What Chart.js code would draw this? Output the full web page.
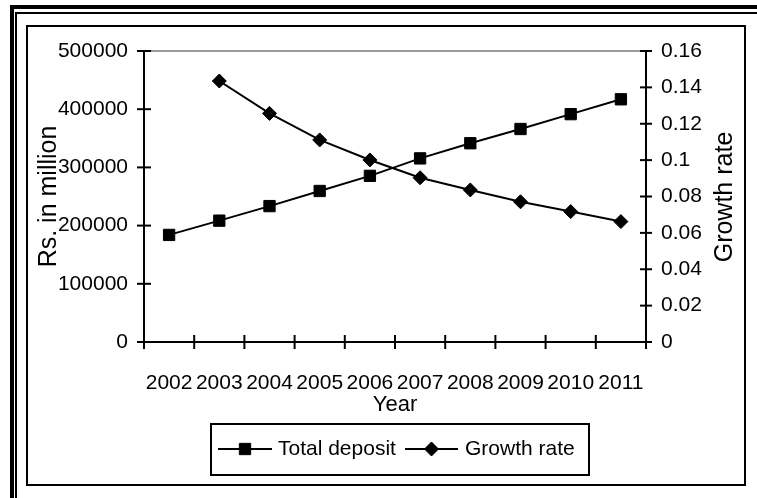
<!DOCTYPE html>
<html>
<head>
<meta charset="utf-8">
<title>Total deposit and growth rate</title>
<script src="https://cdn.jsdelivr.net/npm/chart.js@4.4.0/dist/chart.umd.min.js"></script>
<style>
    html, body {
        margin: 0;
        padding: 0;
        background: #fff;
    }
    canvas {
        display: block;
    }
</style>
</head>
<body>
<canvas id="deposits" width="757" height="498"></canvas>
<script>

const years = ["2002", "2003", "2004", "2005", "2006", "2007", "2008", "2009", "2010", "2011"];

// Rs. in million
const totalDeposit = [184000, 208500, 233500, 259500, 285500, 315500, 341500, 366000, 391500, 417000];

// no growth figure for the first year
const growthRate = [null, 0.1435, 0.1257, 0.1111, 0.1001, 0.0903, 0.0836, 0.0771, 0.0717, 0.0662];

const depositTicks = [0, 100000, 200000, 300000, 400000, 500000];
const rateTicks = [0, 0.02, 0.04, 0.06, 0.08, 0.1, 0.12, 0.14, 0.16];

const FONT = "\"Liberation Sans\", Arial, sans-serif";

Chart.defaults.font.family = FONT;
Chart.defaults.color = "#000";

function strokeLine(ctx, x1, y1, x2, y2) {
    ctx.beginPath();
    ctx.moveTo(x1, y1);
    ctx.lineTo(x2, y2);
    ctx.stroke();
}

// double rule round the sheet plus the thin chart border
const framePlugin = {
    id: "frame",

    beforeDraw(chart) {
        const ctx = chart.ctx;
        const w = chart.width;
        const h = chart.height;

        ctx.save();
        ctx.fillStyle = "#fff";
        ctx.fillRect(0, 0, w, h);

        ctx.fillStyle = "#000";
        ctx.fillRect(10, 5, w - 10, 4);
        ctx.fillRect(10, 5, 4, h - 5);
        ctx.fillRect(15, 12, w - 15, 2);
        ctx.fillRect(15, 12, 2, h - 12);

        ctx.strokeStyle = "#000";
        ctx.lineWidth = 2;
        ctx.strokeRect(27, 26, 718, 459);
        ctx.restore();
    }
};

// axis lines with tick marks that cross them, grey rule on top
const axesPlugin = {
    id: "axes",

    beforeDatasetsDraw(chart) {
        const ctx = chart.ctx;
        const a = chart.chartArea;
        const { x, y, y1 } = chart.scales;

        ctx.save();
        ctx.lineWidth = 2;

        ctx.strokeStyle = "#999";
        strokeLine(ctx, a.left, a.top, a.right, a.top);

        ctx.strokeStyle = "#000";
        strokeLine(ctx, a.left, a.top - 1, a.left, a.bottom + 1);
        strokeLine(ctx, a.right, a.top - 1, a.right, a.bottom + 1);
        strokeLine(ctx, a.left, a.bottom, a.right, a.bottom);

        y.ticks.forEach((t, i) => {
            const py = y.getPixelForTick(i);
            strokeLine(ctx, a.left - 7, py, a.left + 7, py);
        });

        y1.ticks.forEach((t, i) => {
            const py = y1.getPixelForTick(i);
            strokeLine(ctx, a.right - 6, py, a.right + 6, py);
        });

        // marks sit between the year categories
        for (let i = 0; i <= x.ticks.length; i++) {
            const px = x.getPixelForValue(i - 0.5);
            strokeLine(ctx, px, a.bottom - 7, px, a.bottom + 7);
        }

        ctx.restore();
    }
};

// right axis title reads upwards like the left one, and a boxed legend
const annotatePlugin = {
    id: "annotate",

    afterDraw(chart) {
        const ctx = chart.ctx;

        ctx.save();
        ctx.fillStyle = "#000";
        ctx.translate(725, 197);
        ctx.rotate(-Math.PI / 2);
        ctx.font = "25px " + FONT;
        ctx.textAlign = "center";
        ctx.textBaseline = "middle";
        ctx.fillText("Growth rate", 0, 0);
        ctx.restore();

        const box = { left: 211, top: 424, right: 589, bottom: 475 };
        const slots = [
            { from: 218, to: 272, text: 278 },
            { from: 405, to: 458, text: 465 }
        ];
        const cy = 449;

        ctx.save();
        ctx.strokeStyle = "#000";
        ctx.fillStyle = "#000";
        ctx.lineWidth = 2;
        ctx.strokeRect(box.left, box.top, box.right - box.left, box.bottom - box.top);

        chart.data.datasets.forEach((ds, i) => {
            const s = slots[i];

            ctx.lineWidth = 2;
            strokeLine(ctx, s.from, cy, s.to, cy);

            ctx.lineWidth = 1;
            Chart.helpers.drawPoint(ctx, {
                pointStyle: ds.pointStyle,
                radius: ds.pointRadius,
                borderWidth: ds.pointBorderWidth,
                rotation: 0
            }, (s.from + s.to) / 2, cy);

            ctx.font = "21px " + FONT;
            ctx.textAlign = "left";
            ctx.textBaseline = "middle";
            ctx.fillText(ds.label, s.text, cy);
        });

        ctx.restore();
    }
};

new Chart(document.getElementById("deposits"), {
    type: "line",

    data: {
        labels: years,

        datasets: [
            {
                label: "Total deposit",
                data: totalDeposit,
                yAxisID: "y",
                borderColor: "#000",
                borderWidth: 2,
                backgroundColor: "#000",
                pointStyle: "rect",
                pointRadius: 8,
                pointBorderWidth: 1,
                pointBackgroundColor: "#000",
                pointBorderColor: "#000",
                tension: 0
            },
            {
                label: "Growth rate",
                data: growthRate,
                yAxisID: "y1",
                borderColor: "#000",
                borderWidth: 2,
                backgroundColor: "#000",
                pointStyle: "rectRot",
                pointRadius: 7,
                pointBorderWidth: 1,
                pointBackgroundColor: "#000",
                pointBorderColor: "#000",
                tension: 0
            }
        ]
    },

    options: {
        responsive: false,
        animation: false,
        events: [],

        layout: {
            padding: { top: 51, left: 0, right: 0, bottom: 0 }
        },

        plugins: {
            legend: { display: false },
            tooltip: { enabled: false }
        },

        scales: {
            x: {
                type: "category",
                offset: true,
                grid: { display: false, drawTicks: false },
                border: { display: false },
                ticks: {
                    font: { size: 21 },
                    color: "#000",
                    padding: 29,
                    maxRotation: 0,
                    autoSkip: false
                },
                title: {
                    display: true,
                    text: "Year",
                    font: { size: 22 },
                    color: "#000",
                    padding: { top: 0, bottom: 80 }
                },
                afterFit(scale) {
                    scale.height = 156;
                }
            },

            y: {
                position: "left",
                min: depositTicks[0],
                max: depositTicks[depositTicks.length - 1],
                grid: { display: false, drawTicks: false },
                border: { display: false },
                ticks: {
                    font: { size: 21 },
                    color: "#000",
                    padding: 16,
                    callback: v => String(v)
                },
                afterBuildTicks(scale) {
                    scale.ticks = depositTicks.map(v => ({ value: v }));
                },
                title: {
                    display: true,
                    text: "Rs. in million",
                    font: { size: 25 },
                    color: "#000",
                    padding: { top: 34, bottom: 0 }
                },
                afterFit(scale) {
                    scale.width = 144;
                }
            },

            y1: {
                position: "right",
                min: rateTicks[0],
                max: rateTicks[rateTicks.length - 1],
                grid: { display: false, drawTicks: false },
                border: { display: false },
                ticks: {
                    font: { size: 21 },
                    color: "#000",
                    padding: 15,
                    callback: v => String(+v.toFixed(2))
                },
                afterBuildTicks(scale) {
                    scale.ticks = rateTicks.map(v => ({ value: v }));
                },
                afterFit(scale) {
                    scale.width = 111;
                }
            }
        }
    },

    plugins: [framePlugin, axesPlugin, annotatePlugin]
});

</script>
</body>
</html>
